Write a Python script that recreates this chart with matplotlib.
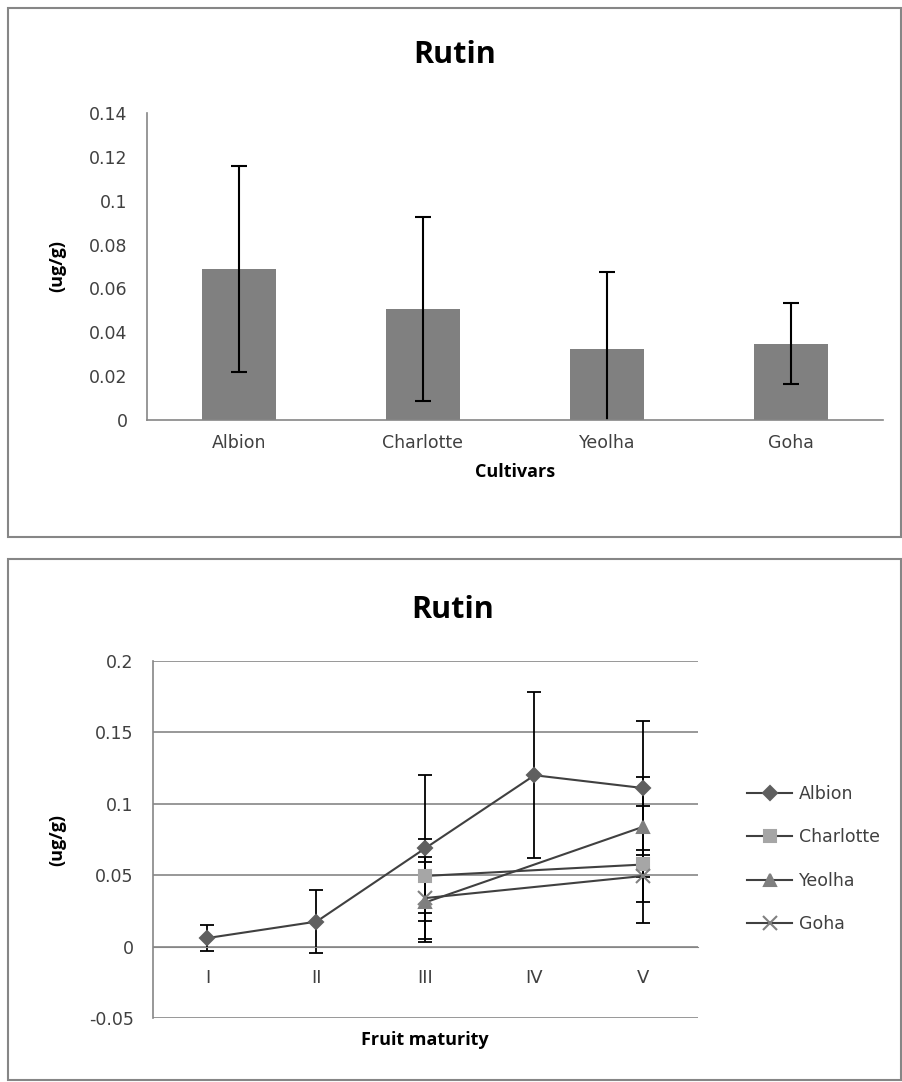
import matplotlib
matplotlib.use("Agg")
import matplotlib.pyplot as plt
from matplotlib.patches import Rectangle

# Données : teneur en rutine par cultivar
cultivars = ["Albion", "Charlotte", "Yeolha", "Goha"]
cult_mean = [0.069, 0.0505, 0.0325, 0.0347]
cult_err = [0.047, 0.042, 0.035, 0.0185]

# Données : rutine selon le stade de maturité
stages = ["I", "II", "III", "IV", "V"]
albion = [0.006, 0.0175, 0.069, 0.120, 0.111]
albion_err = [0.009, 0.022, 0.051, 0.058, 0.047]
charlotte = [None, None, 0.0495, None, 0.0575]
charlotte_err = [None, None, 0.026, None, 0.041]
yeolha = [None, None, 0.031, None, 0.084]
yeolha_err = [None, None, 0.028, None, 0.035]
goha = [None, None, 0.034, None, 0.0495]
goha_err = [None, None, 0.029, None, 0.018]

W, H = 903, 1082
fig = plt.figure(figsize=(W / 100, H / 100), dpi=100)
grey = "#868686"
tick_font = dict(family="DejaVu Sans", size=12.5, color="#404040")
bold_font = dict(family="Open Sans", weight="bold")


def fig_box(x0, y0, x1, y1):
    # Convertir des pixels (origine en haut) en coordonnées figure
    return [x0 / W, 1 - y1 / H, (x1 - x0) / W, (y1 - y0) / H]


# Cadres des deux graphiques
for y0, y1 in [(8, 537), (559, 1080)]:
    fig.patches.append(Rectangle((8 / W, 1 - y1 / H), 893 / W, (y1 - y0) / H,
                                 transform=fig.transFigure, fill=False,
                                 edgecolor=grey, linewidth=1.5))

# ---- Graphique du haut : barres ----
ax1 = fig.add_axes(fig_box(147, 113, 883, 420))
x = [i + 0.5 for i in range(len(cultivars))]
ax1.bar(x, cult_mean, width=0.4, color="#808080")
ax1.errorbar(x, cult_mean, yerr=cult_err, fmt="none", ecolor="black",
             elinewidth=1.5, capsize=6, capthick=1.5)
ax1.set_xlim(0, 4)
ax1.set_ylim(0, 0.14)
ax1.set_yticks([0, 0.02, 0.04, 0.06, 0.08, 0.1, 0.12, 0.14])
ax1.set_yticklabels(["0", "0.02", "0.04", "0.06", "0.08", "0.1", "0.12", "0.14"], **tick_font)
ax1.set_xticks(x)
ax1.set_xticklabels(cultivars, **tick_font)
ax1.tick_params(axis="y", length=0, pad=14)
ax1.tick_params(axis="x", length=0, pad=10)
for s in ["top", "right"]:
    ax1.spines[s].set_visible(False)
for s in ["left", "bottom"]:
    ax1.spines[s].set_color(grey)
    ax1.spines[s].set_linewidth(1.2)
ax1.set_xlabel("Cultivars", fontsize=13, labelpad=8, **bold_font)
ax1.set_ylabel("(ug/g)", fontsize=13, labelpad=16, **bold_font)
fig.text(455 / W, 1 - 55 / H, "Rutin", ha="center", va="center", fontsize=22, **bold_font)

# ---- Graphique du bas : courbes ----
ax2 = fig.add_axes(fig_box(153, 661, 698, 1018))
# l'axe des catégories croise en 0 (à faire avant de styler les étiquettes)
ax2.spines["bottom"].set_position(("data", 0))
ax2.spines["bottom"].set_color(grey)
ax2.spines["left"].set_color(grey)
ax2.spines["left"].set_linewidth(1.2)
for s in ["top", "right"]:
    ax2.spines[s].set_visible(False)

series = [
    ("Albion", albion, albion_err, "D", "#5f5f5f", 7),
    ("Charlotte", charlotte, charlotte_err, "s", "#a6a6a6", 8),
    ("Yeolha", yeolha, yeolha_err, "^", "#7f7f7f", 9),
    ("Goha", goha, goha_err, "x", "#808080", 10),
]
for name, vals, errs, marker, mcol, ms in series:
    xs = [i for i, v in enumerate(vals) if v is not None]
    ys = [vals[i] for i in xs]
    es = [errs[i] for i in xs]
    ax2.errorbar(xs, ys, yerr=es, fmt="none", ecolor="black", elinewidth=1.3,
                 capsize=5, capthick=1.3, zorder=2)
    ax2.plot(xs, ys, color="#404040", linewidth=1.5, marker=marker, markersize=ms,
             markerfacecolor=mcol, markeredgecolor=mcol, markeredgewidth=1.5,
             label=name, zorder=3)

ax2.set_xlim(-0.5, 4.5)
ax2.set_ylim(-0.05, 0.2)
yt = [-0.05, 0, 0.05, 0.1, 0.15, 0.2]
ax2.set_yticks(yt)
ax2.set_yticklabels(["-0.05", "0", "0.05", "0.1", "0.15", "0.2"], **tick_font)
ax2.yaxis.grid(True, color=grey, linewidth=1.2)
ax2.set_axisbelow(True)
ax2.set_xticks(range(len(stages)))
ax2.set_xticklabels(stages, family="DejaVu Sans", size=13, color="#404040")
ax2.tick_params(axis="x", length=0, pad=16)
ax2.tick_params(axis="y", length=0, pad=14)
ax2.set_ylabel("(ug/g)", fontsize=13, labelpad=16, **bold_font)
fig.text(425 / W, 1 - 1040 / H, "Fruit maturity", ha="center", va="center",
         fontsize=13, **bold_font)
fig.text(453 / W, 1 - 610 / H, "Rutin", ha="center", va="center", fontsize=22, **bold_font)

leg = ax2.legend(loc="center left", bbox_to_anchor=(740 / W, 1 - 859 / H),
                 bbox_transform=fig.transFigure, frameon=False,
                 prop=dict(family="DejaVu Sans", size=12.5), labelspacing=1.45,
                 handlelength=2.6, handletextpad=0.4, borderaxespad=0)
for t in leg.get_texts():
    t.set_color("#404040")

plt.savefig("out.png", dpi=100)
plt.close()
